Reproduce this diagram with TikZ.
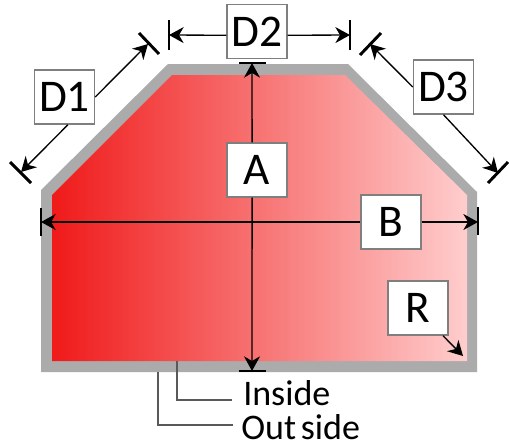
\documentclass[tikz,border=0pt]{standalone}
\usepackage{fontspec}
\setmainfont{Carlito}
\usetikzlibrary{arrows.meta}
\definecolor{wallgray}{HTML}{ABABAB}
\definecolor{boxgray}{HTML}{7F7F7F}
\definecolor{hotred}{HTML}{F01A1A}
\definecolor{palered}{HTML}{FFCDCD}
\tikzset{
  dimbox/.style={draw=boxgray, line width=1.1pt, fill=white, inner sep=0pt, minimum width=45pt, minimum height=40.5pt, font=\fontsize{34}{34}\selectfont},
  dimline/.style={draw, line width=1pt, -{Stealth[length=11pt, width=12pt, inset=3.5pt]}},
  bigtick/.style={draw, line width=2.2pt},
  smalltick/.style={draw, line width=1.1pt},
  leader/.style={draw=black!65, line width=1.1pt},
  sidelabel/.style={anchor=base west, inner sep=0pt, font=\fontsize{27}{27}\selectfont}
}
\begin{document}
\begin{tikzpicture}[x=.75pt, y=-.75pt]
    \useasboundingbox (0,0) rectangle (509,446);
    % wall and inside
    \fill[wallgray] (41,190) -- (168,64) -- (348,64) -- (477,192) -- (477,372) -- (41,372) -- cycle;
    \shade[left color=hotred, right color=palered] (52,195) -- (172,75) -- (345,75) -- (467,195) -- (467,361) -- (52,361) -- cycle;

    % label boxes
    \node[dimbox] at (64.5,97) (d1) {D1};
    \node[dimbox] at (257,31.5) (d2) {D2};
    \node[dimbox] at (443.5,87) (d3) {D3};
    \node[dimbox] at (257,170) (a) {A};
    \node[dimbox] at (391,222) (b) {B};
    \node[dimbox] at (418,308) (r) {R};
    % side labels
    \node[sidelabel] at (243,405) (inside) {Inside};
    \node[sidelabel] at (241,439) (outside) {Out\hspace{-2.5pt} side};

    % arrow ends
    \coordinate (d1up) at (148,44);
    \coordinate (d1low) at (21,172);
    \coordinate (d2left) at (169,35);
    \coordinate (d2right) at (350,35);
    \coordinate (d3up) at (370,44);
    \coordinate (d3low) at (498,173);
    \coordinate (atop) at (252,63);
    \coordinate (abot) at (252,371);
    \coordinate (bleft) at (41,222);
    \coordinate (bright) at (478,222);
    \coordinate (rend) at (463,356);
    % tick ends
    \coordinate (d1upa) at (139,33);
    \coordinate (d1upb) at (159,54);
    \coordinate (d1lowa) at (10,162);
    \coordinate (d1lowb) at (31,183);
    \coordinate (d2lefta) at (169,20);
    \coordinate (d2leftb) at (169,50);
    \coordinate (d2righta) at (350,20);
    \coordinate (d2rightb) at (350,50);
    \coordinate (d3upa) at (360,55);
    \coordinate (d3upb) at (381,33);
    \coordinate (d3lowa) at (488,183);
    \coordinate (d3lowb) at (508,162);
    \coordinate (atopa) at (239,63);
    \coordinate (atopb) at (266,63);
    \coordinate (abota) at (239,371);
    \coordinate (abotb) at (266,371);
    \coordinate (blefta) at (41,208);
    \coordinate (bleftb) at (41,236);
    \coordinate (brighta) at (478,207);
    \coordinate (brightb) at (478,235);
    % leader ends
    \coordinate (inwall) at (177,361);
    \coordinate (inend) at (232,400);
    \coordinate (outwall) at (158,372);
    \coordinate (outend) at (233,425);

    % dimension arrows
    \draw[dimline] (d1.east) -- (d1up);
    \draw[dimline] (d1.-83) -- (d1low);
    \draw[dimline] (d2.187) -- (d2left);
    \draw[dimline] (d2.-7) -- (d2right);
    \draw[dimline] (d3.west) -- (d3up);
    \draw[dimline] (d3.south) -- (d3low);
    \draw[dimline] (a.100) -- (atop);
    \draw[dimline] (a.-100) -- (abot);
    \draw[dimline] (b.west) -- (bleft);
    \draw[dimline] (b.east) -- (bright);
    \draw[dimline] (r.-48) -- (rend);
    % ticks
    \path[bigtick] (d1upa) edge (d1upb);
    \path[bigtick] (d1lowa) edge (d1lowb);
    \path[bigtick] (d2lefta) edge (d2leftb);
    \path[bigtick] (d2righta) edge (d2rightb);
    \path[bigtick] (d3upa) edge (d3upb);
    \path[bigtick] (d3lowa) edge (d3lowb);
    \path[smalltick] (atopa) edge (atopb);
    \path[smalltick] (abota) edge (abotb);
    \path[smalltick] (blefta) edge (bleftb);
    \path[smalltick] (brighta) edge (brightb);
    % leaders
    \draw[leader] (inwall) |- (inend);
    \draw[leader] (outwall) |- (outend);
\end{tikzpicture}
\end{document}
